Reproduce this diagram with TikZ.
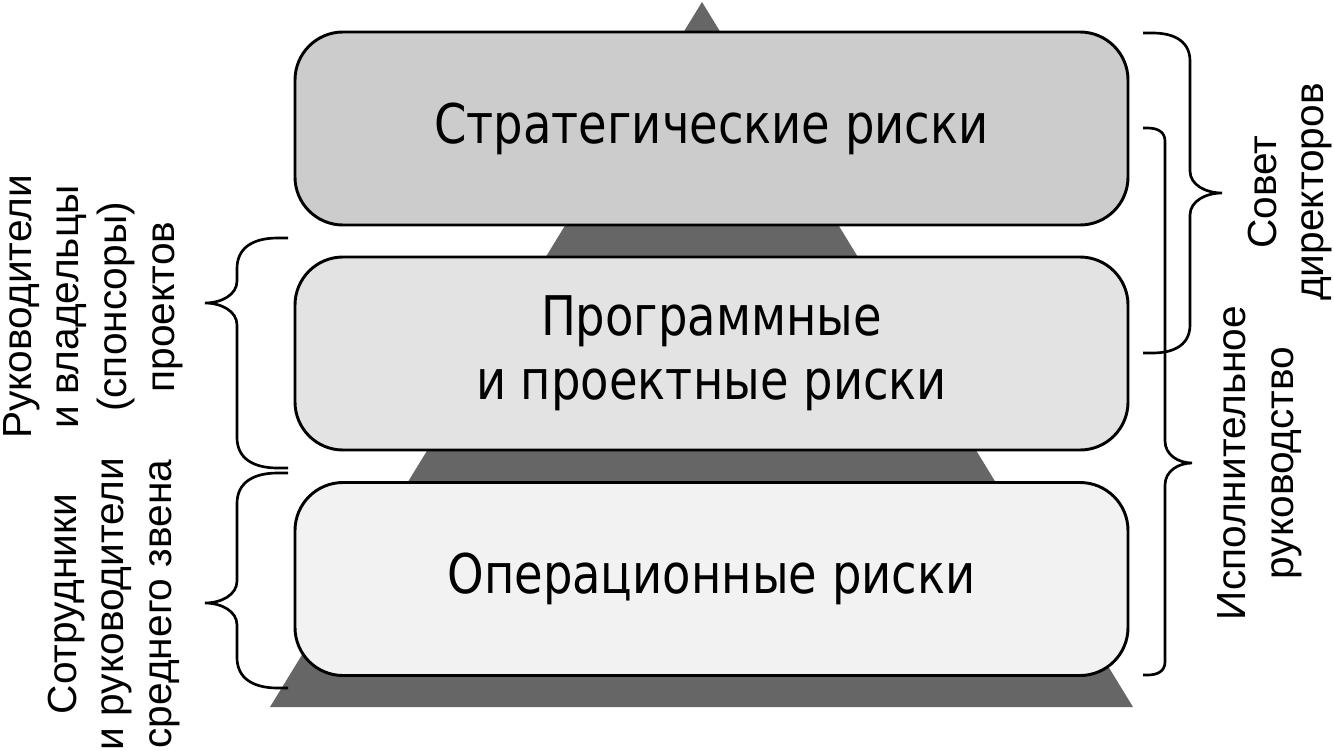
\documentclass[tikz,border=0pt]{standalone}
\usepackage{fontspec}
\setmainfont{Liberation Sans}
\newfontfamily\boxfont[FakeStretch=0.85]{DejaVu Sans}
\usetikzlibrary{positioning}

\definecolor{pyramidgray}{gray}{0.4}
\definecolor{stratfill}{gray}{0.8}
\definecolor{progfill}{gray}{0.89}
\definecolor{operfill}{gray}{0.95}

\tikzset{
  riskbox/.style={draw,line width=2.2pt,rounded corners=36pt,
    minimum width=624.75pt,minimum height=144.75pt,align=center,
    font=\boxfont\fontsize{41}{48}\selectfont},
  sidelabel/.style={rotate=90,align=center,inner sep=0pt,
    font=\fontsize{30.5}{35.8}\selectfont},
  bracestyle/.style={line width=2pt},
}

\begin{document}
\begin{tikzpicture}[x=0.75pt,y=-0.75pt]
\useasboundingbox (0,0) rectangle (1334,750);
% pyramid behind the levels
\fill[pyramidgray] (702,2) -- (1133,707) -- (270,707) -- cycle;
% risk levels
\node[riskbox,fill=stratfill] (strat) at (711.5,128.5){Стратегические риски};
\node[riskbox,fill=progfill] (prog) at (711.5,353.5){Программные\\и проектные риски};
\node[riskbox,fill=operfill] (oper) at (711.5,579){Операционные риски};
% braces: direction/end x/top/bottom/spine depth/tip depth/tip y
\foreach \dir/\ex/\ya/\yb/\sp/\tp/\ty in {1/288/238/468/51/83/303,1/288/473/688/51/83/603,
  -1/1143/33/353/47/79/193,-1/1143/128/675/22/49/463}{
  \begin{scope}[shift={(\ex,0)},xscale=\dir]
  \draw[bracestyle] (0,\ya) -- ({-0.2*\sp},\ya)
    .. controls ({-0.7*\sp},\ya) and (-\sp,{\ya+0.2*\sp}) .. (-\sp,{\ya+0.6*\sp})
    -- (-\sp,{\ty-22}) .. controls (-\sp,{\ty-8}) and ({-(\sp+\tp)/2},\ty) .. (-\tp,\ty)
    .. controls ({-(\sp+\tp)/2},\ty) and (-\sp,{\ty+8}) .. (-\sp,{\ty+22})
    -- (-\sp,{\yb-0.6*\sp}) .. controls (-\sp,{\yb-0.2*\sp}) and ({-0.7*\sp},\yb) .. ({-0.2*\sp},\yb)
    -- (0,\yb);
  \end{scope}
}
% who owns each level
\node[sidelabel] (lead) at (93,307){Руководители\\и владельцы\\(спонсоры)\\проектов};
\node[sidelabel] (staff) at (114,604){Сотрудники\\и руководители\\среднего звена};
\node[sidelabel] (board) at (1290,192){Совет\\директоров};
\node[sidelabel] (exec) at (1260,463){Исполнительное\\руководство};
\end{tikzpicture}
\end{document}
